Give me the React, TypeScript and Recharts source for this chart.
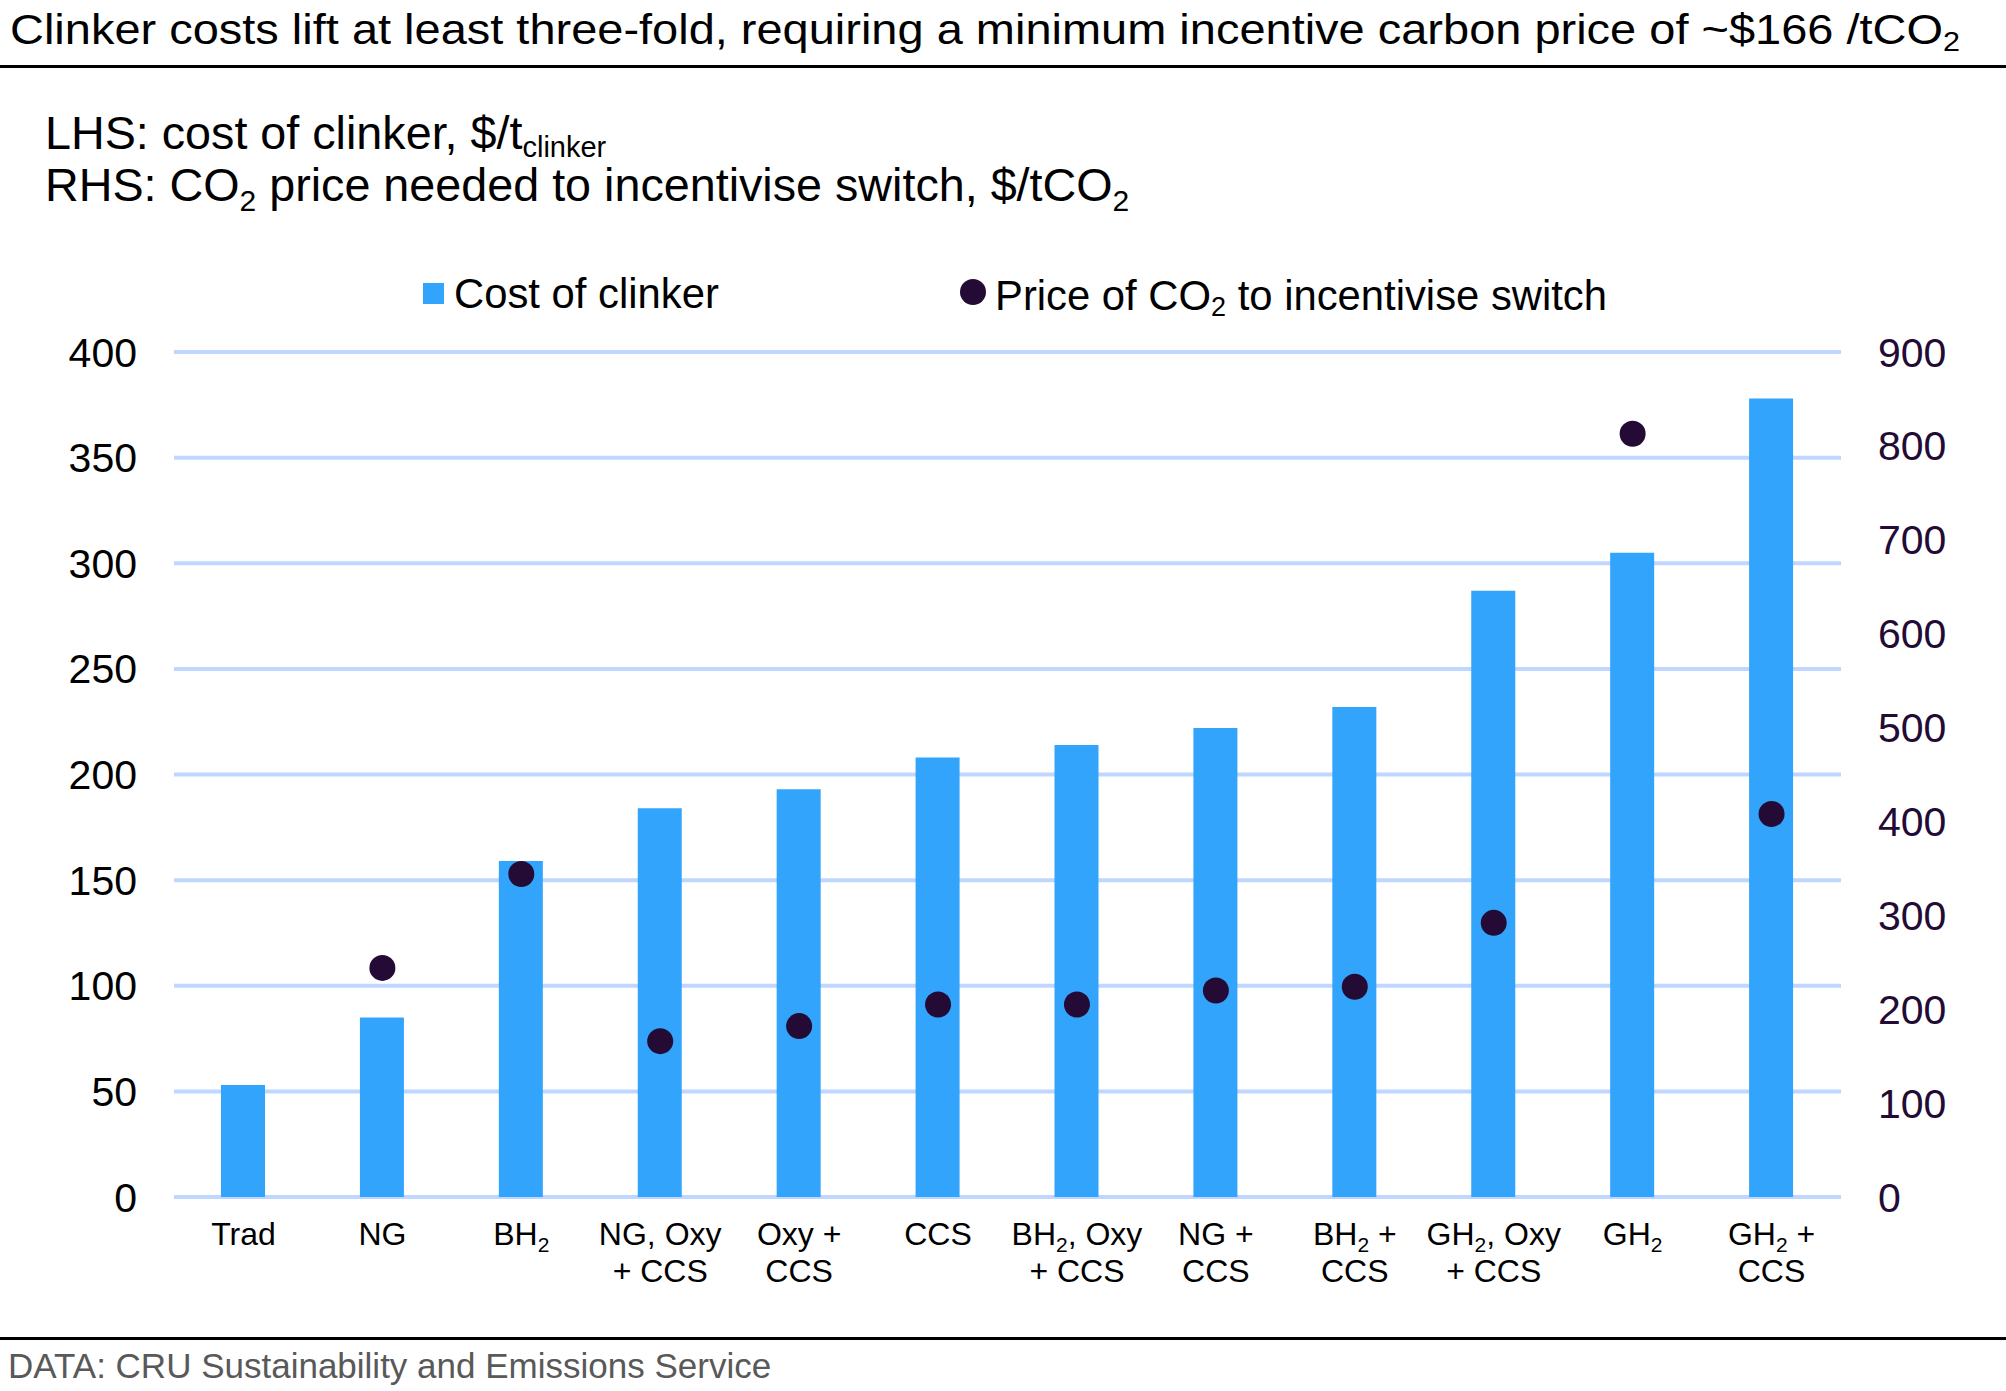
import React from "react";
import { ComposedChart, Bar, Line, XAxis, YAxis, CartesianGrid } from "recharts";

const FONT = "'Liberation Sans', Arial, Helvetica, sans-serif";

// Category labels ("\n" = line break, "₂" rendered as subscript 2)
const categories = [
  "Trad",
  "NG",
  "BH₂",
  "NG, Oxy\n+ CCS",
  "Oxy +\nCCS",
  "CCS",
  "BH₂, Oxy\n+ CCS",
  "NG +\nCCS",
  "BH₂ +\nCCS",
  "GH₂, Oxy\n+ CCS",
  "GH₂",
  "GH₂ +\nCCS",
];

// LHS: cost of clinker, $/t clinker
const clinkerCost = [53, 85, 159, 184, 193, 208, 214, 222, 232, 287, 305, 378];

// RHS: CO2 price needed to incentivise switch, $/tCO2
const co2Price: (number | null)[] = [null, 244, 344, 166, 182, 205, 205, 220, 224, 292, 813, 408];

const leftTicks = [0, 50, 100, 150, 200, 250, 300, 350, 400];
const rightTicks = [0, 100, 200, 300, 400, 500, 600, 700, 800, 900];

const BAR_COLOR = "#32A4FB";
const DOT_COLOR = "#230B35";
const GRID_COLOR = "#BFD7FE";

const data = categories.map((name, i) => ({
  name,
  cost: clinkerCost[i],
  co2: co2Price[i],
}));

function renderLine(line: string, x: number, y: number, fontSize: number, key: number) {
  const parts = line.split("₂");
  const subSize = Math.round(fontSize * 0.65);
  const shift = Math.round(fontSize * 0.22);
  const nodes: React.ReactNode[] = [];
  parts.forEach((p, idx) => {
    if (idx === 0) {
      nodes.push(
        <tspan key={`${key}-p${idx}`} x={x} y={y}>
          {p}
        </tspan>
      );
    } else {
      nodes.push(
        <tspan key={`${key}-s${idx}`} fontSize={subSize} dy={shift}>
          2
        </tspan>
      );
      nodes.push(
        <tspan key={`${key}-p${idx}`} dy={-shift}>
          {p}
        </tspan>
      );
    }
  });
  return nodes;
}

const CatTick = (props: any) => {
  const { x, y, payload } = props;
  const lines = String(payload.value).split("\n");
  const fs = 32;
  return (
    <text
      textAnchor="middle"
      fontSize={fs}
      fontFamily={FONT}
      fill="#000000"
    >
      {lines.map((ln, i) => renderLine(ln, x, y + 48 + i * 37, fs, i))}
    </text>
  );
};

export default function App() {
  return (
    <div
      style={{
        position: "absolute",
        left: 0,
        top: 0,
        width: 2006,
        height: 1391,
        background: "#ffffff",
        fontFamily: FONT,
      }}
    >
      <ComposedChart
        width={2006}
        height={1391}
        data={data}
        margin={{ top: 352, right: 65, bottom: 54, left: 74 }}
      >
        <CartesianGrid
          yAxisId="left"
          vertical={false}
          stroke={GRID_COLOR}
          strokeWidth={4}
        />
        <XAxis
          dataKey="name"
          axisLine={false}
          tickLine={false}
          tickSize={0}
          tickMargin={0}
          interval={0}
          height={140}
          tick={<CatTick />}
        />
        <YAxis
          yAxisId="left"
          orientation="left"
          domain={[0, 400]}
          ticks={leftTicks}
          axisLine={false}
          tickLine={false}
          tickSize={0}
          tickMargin={37}
          width={100}
          tick={{ fontSize: 41, fill: "#000000", fontFamily: FONT }}
        />
        <YAxis
          yAxisId="right"
          orientation="right"
          domain={[0, 900]}
          ticks={rightTicks}
          axisLine={false}
          tickLine={false}
          tickSize={0}
          tickMargin={37}
          width={100}
          tick={{ fontSize: 41, fill: DOT_COLOR, fontFamily: FONT }}
        />
        <Bar
          yAxisId="left"
          dataKey="cost"
          fill={BAR_COLOR}
          barSize={44}
          isAnimationActive={false}
        />
        <Line
          yAxisId="right"
          dataKey="co2"
          stroke="none"
          strokeWidth={0}
          dot={{ r: 13, fill: DOT_COLOR, stroke: "none" }}
          activeDot={false}
          isAnimationActive={false}
        />
      </ComposedChart>

      <svg
        width={2006}
        height={1391}
        style={{ position: "absolute", left: 0, top: 0, pointerEvents: "none" }}
        fontFamily={FONT}
      >
        {/* Title */}
        <text
          x={10}
          y={44}
          fontSize={43}
          fill="#000000"
          textLength={1950}
          lengthAdjust="spacingAndGlyphs"
        >
          Clinker costs lift at least three-fold, requiring a minimum incentive carbon price of ~$166 /tCO
          <tspan fontSize={28} dy={7}>2</tspan>
        </text>
        <rect x={0} y={65} width={2006} height={3} fill="#000000" />

        {/* Axis description */}
        <text x={45} y={149} fontSize={46.7} fill="#000000">
          LHS: cost of clinker, $/t
          <tspan fontSize={29} dy={8}>clinker</tspan>
        </text>
        <text x={45} y={201} fontSize={46.7} fill="#000000">
          RHS: CO
          <tspan fontSize={30} dy={10}>2</tspan>
          <tspan dy={-10}> price needed to incentivise switch, $/tCO</tspan>
          <tspan fontSize={30} dy={10}>2</tspan>
        </text>

        {/* Legend */}
        <rect x={423} y={283} width={21} height={21} fill={BAR_COLOR} />
        <text x={454} y={308} fontSize={41.8} fill="#000000">
          Cost of clinker
        </text>
        <circle cx={973} cy={292} r={13} fill={DOT_COLOR} />
        <text x={995} y={310} fontSize={41.8} fill="#000000">
          Price of CO
          <tspan fontSize={27} dy={6}>2</tspan>
          <tspan dy={-6}> to incentivise switch</tspan>
        </text>

        {/* Source */}
        <rect x={0} y={1337} width={2006} height={3} fill="#000000" />
        <text x={8} y={1378} fontSize={35} fill="#595959">
          DATA: CRU Sustainability and Emissions Service
        </text>
      </svg>
    </div>
  );
}
